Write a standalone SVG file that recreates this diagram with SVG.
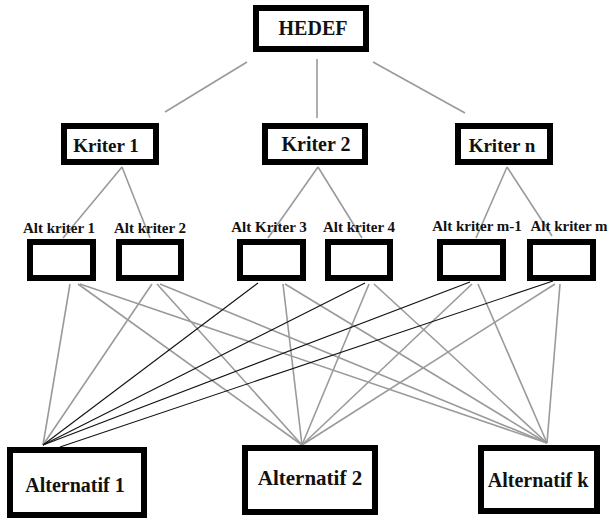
<svg xmlns="http://www.w3.org/2000/svg" width="610" height="521" viewBox="0 0 610 521">
<style>
.box{fill:#fff;stroke:#000;stroke-width:6}
.sbox{fill:#fff;stroke:#000;stroke-width:6}
text{font-family:'Liberation Serif','DejaVu Serif',serif;font-weight:700;fill:#111;text-anchor:middle}
.g{stroke:#9a9a9a;stroke-width:1.6;fill:none}
.k{stroke:#111;stroke-width:1.1;fill:none}
</style>
<rect width="610" height="521" fill="#fff"/>
<g id="connectors">
<line class="g" x1="247" y1="62" x2="165" y2="112"/>
<line class="g" x1="317" y1="59" x2="317" y2="118"/>
<line class="g" x1="373" y1="62" x2="465" y2="113"/>
<line class="g" x1="122" y1="167" x2="63" y2="238"/>
<line class="g" x1="122" y1="167" x2="150" y2="238"/>
<line class="g" x1="318" y1="167" x2="268" y2="238"/>
<line class="g" x1="318" y1="167" x2="362" y2="238"/>
<line class="g" x1="507" y1="167" x2="476" y2="238"/>
<line class="g" x1="507" y1="167" x2="552" y2="236"/>
<line class="g" x1="70" y1="284" x2="43" y2="445"/>
<line class="g" x1="78" y1="284" x2="302" y2="445"/>
<line class="g" x1="80" y1="284" x2="547" y2="443"/>
<line class="g" x1="152" y1="284" x2="43" y2="445"/>
<line class="g" x1="157" y1="284" x2="302" y2="445"/>
<line class="g" x1="160" y1="284" x2="547" y2="443"/>
<line class="k" x1="258" y1="283" x2="43" y2="445"/>
<line class="g" x1="283" y1="284" x2="302" y2="445"/>
<line class="g" x1="285" y1="284" x2="547" y2="443"/>
<line class="k" x1="365" y1="283" x2="43" y2="445"/>
<line class="g" x1="369" y1="284" x2="302" y2="445"/>
<line class="g" x1="374" y1="284" x2="547" y2="443"/>
<line class="k" x1="470" y1="282" x2="43" y2="445"/>
<line class="g" x1="472" y1="284" x2="302" y2="445"/>
<line class="g" x1="478" y1="284" x2="547" y2="443"/>
<line class="k" x1="553" y1="281" x2="60" y2="447"/>
<line class="g" x1="555" y1="284" x2="302" y2="445"/>
<line class="g" x1="560" y1="284" x2="547" y2="443"/>
</g>
<g id="hedef"><rect class="box" x="256" y="8" width="110" height="41"/><text x="313" y="35" font-size="20">HEDEF</text></g>
<g id="kriter1"><rect class="box" x="64" y="126" width="92" height="36"/><text x="106" y="152" font-size="19">Kriter 1</text></g>
<g id="kriter2"><rect class="box" x="265" y="126" width="100" height="36"/><text x="316" y="151" font-size="20">Kriter 2</text></g>
<g id="kritern"><rect class="box" x="458" y="126" width="92" height="36"/><text x="502" y="152" font-size="19">Kriter n</text></g>
<g id="alt1"><rect class="sbox" x="30" y="242" width="63" height="36"/><text x="59" y="233" font-size="15">Alt kriter 1</text></g>
<g id="alt2"><rect class="sbox" x="119" y="242" width="62" height="36"/><text x="150" y="233" font-size="15">Alt kriter 2</text></g>
<g id="alt3"><rect class="sbox" x="240" y="242" width="63" height="36"/><text x="269" y="232" font-size="15">Alt Kriter 3</text></g>
<g id="alt4"><rect class="sbox" x="328" y="242" width="62" height="36"/><text x="359" y="232" font-size="15">Alt kriter 4</text></g>
<g id="altm1"><rect class="sbox" x="440" y="242" width="63" height="36"/><text x="477" y="231" font-size="15">Alt kriter m-1</text></g>
<g id="altm"><rect class="sbox" x="530" y="242" width="63" height="36"/><text x="569" y="231" font-size="15">Alt kriter m</text></g>
<g id="alternatif1"><rect class="box" x="10" y="450" width="134" height="65"/><text x="75" y="492" font-size="20">Alternatif 1</text></g>
<g id="alternatif2"><rect class="box" x="245" y="448" width="130" height="64"/><text x="310" y="485" font-size="21">Alternatif 2</text></g>
<g id="alternatifk"><rect class="box" x="481" y="448" width="116" height="63"/><text x="538" y="487" font-size="20">Alternatif k</text></g>
</svg>
